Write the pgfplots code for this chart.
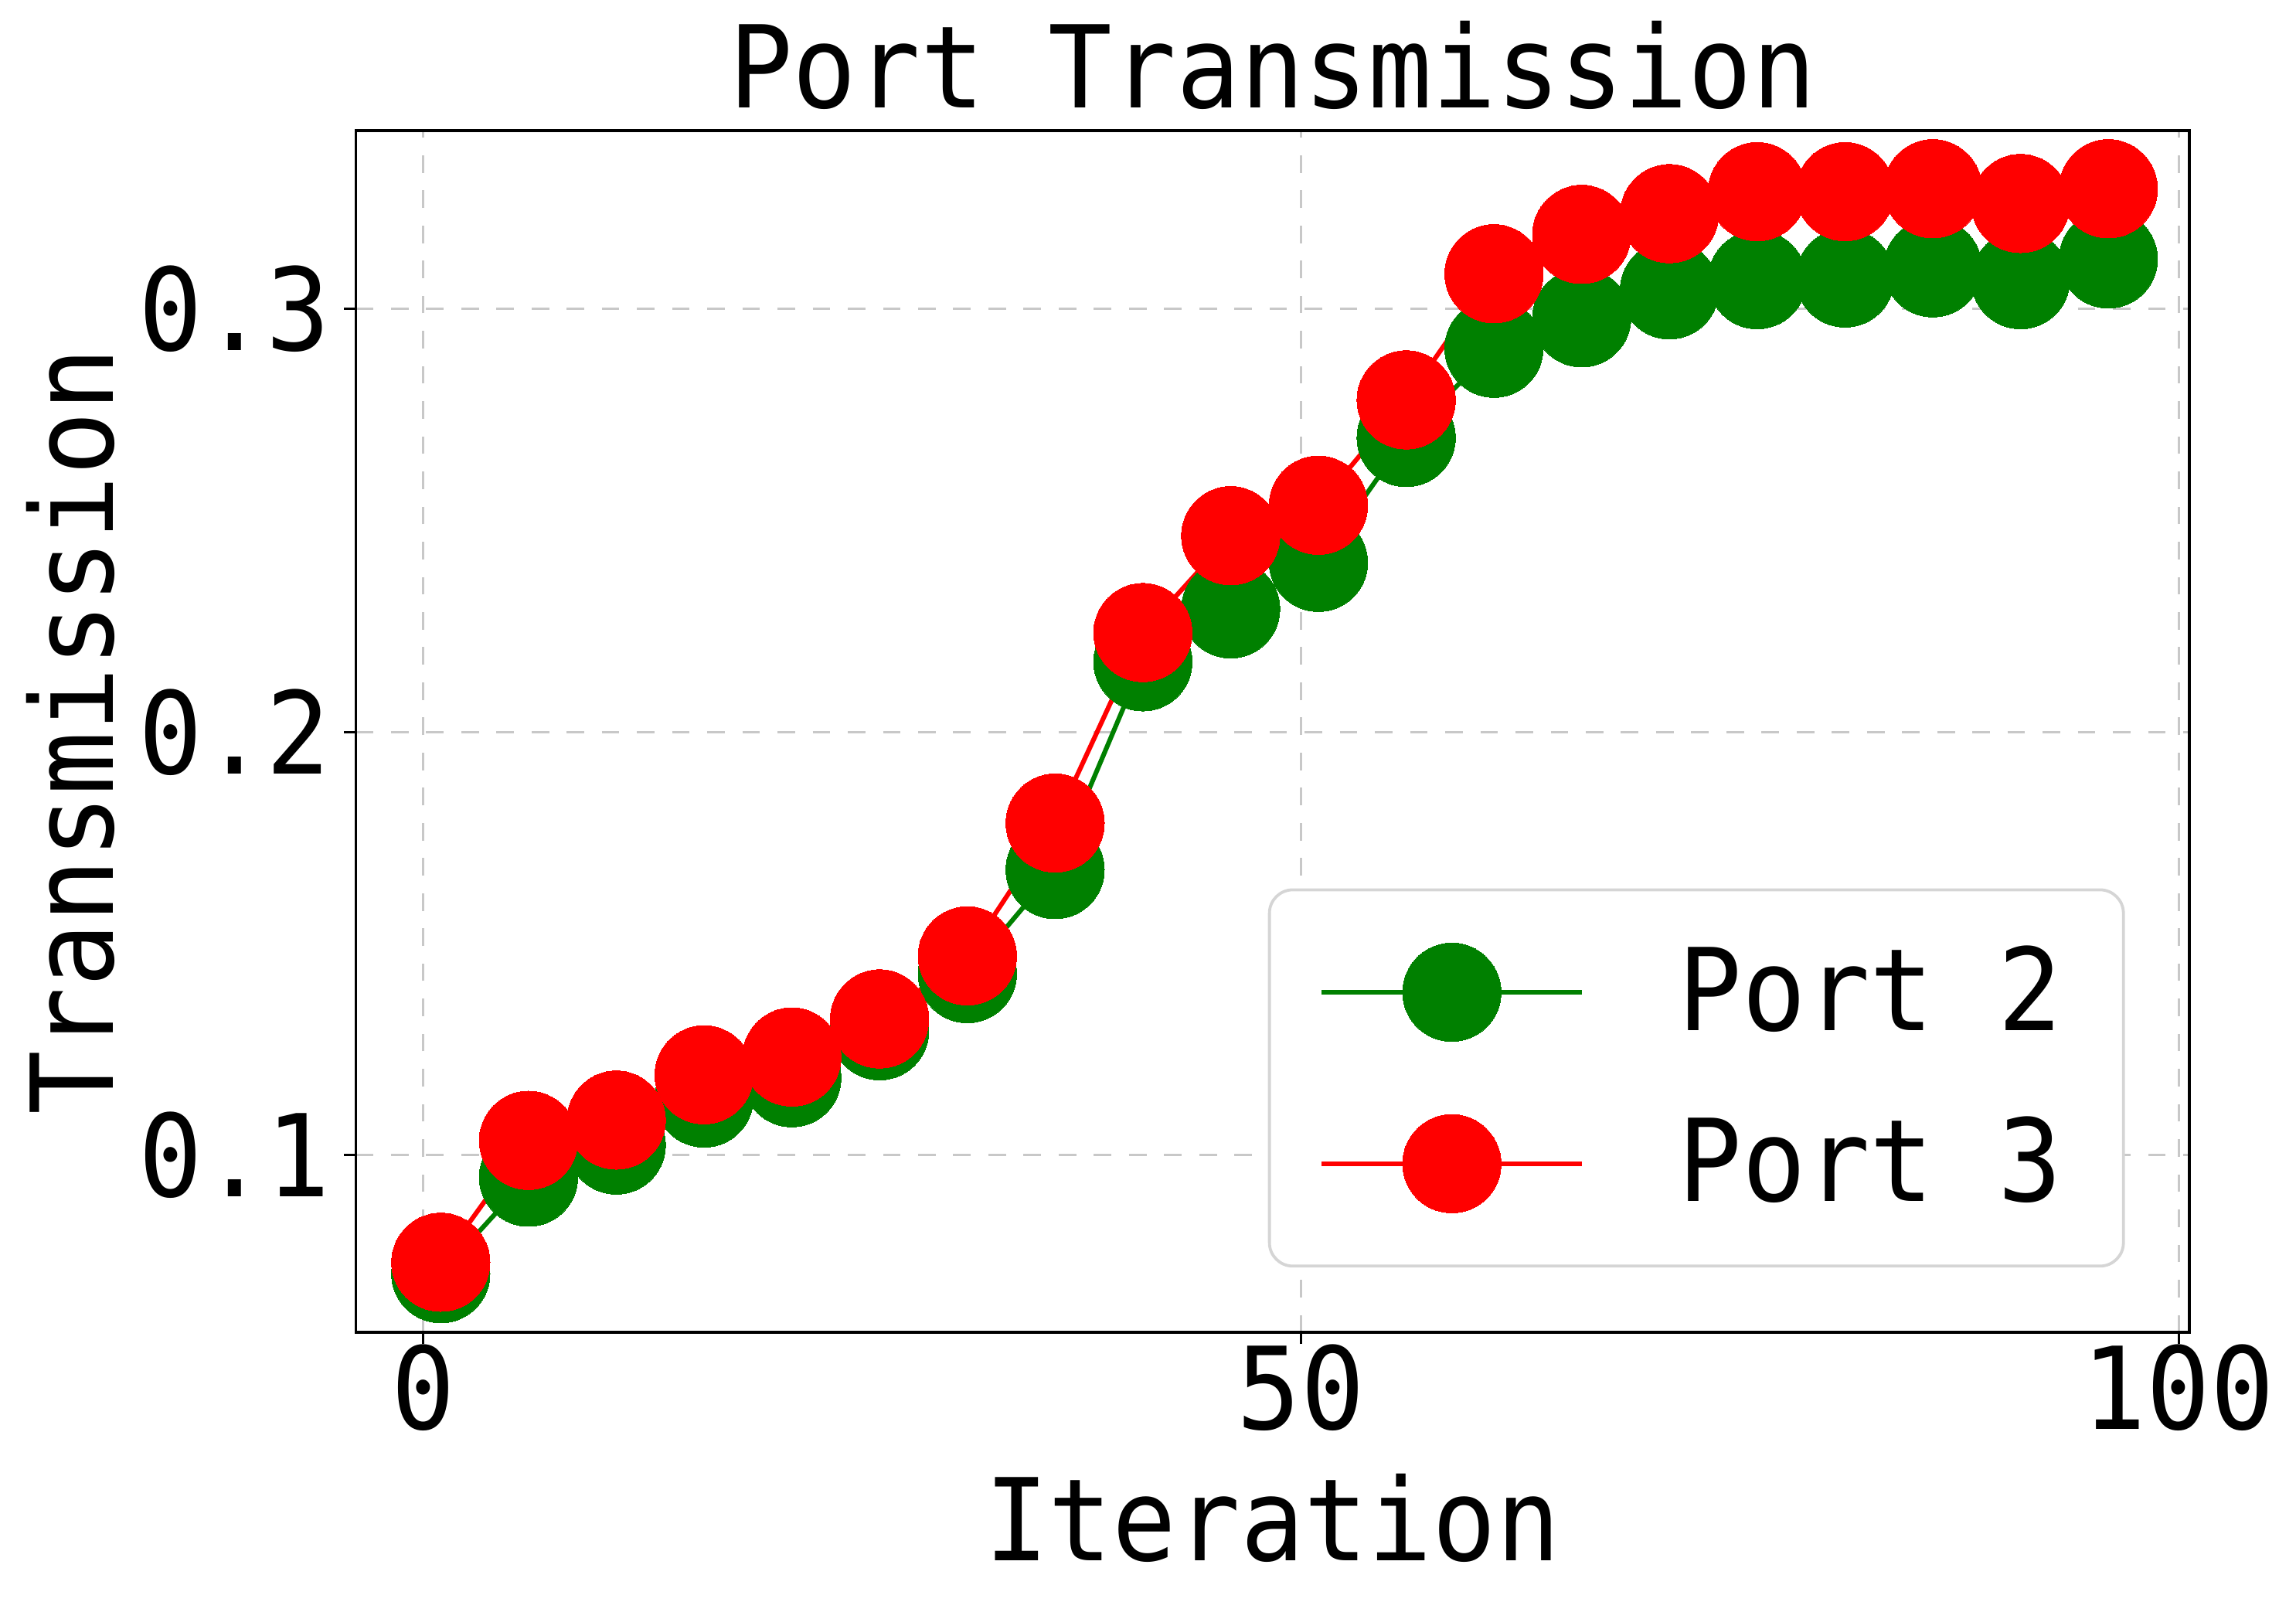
\documentclass[border=0pt]{standalone}
\usepackage{fontspec}
\setmainfont[FakeStretch=0.93]{DejaVu Sans Mono}
\usepackage{pgfplots}
\pgfplotsset{compat=1.18}
\definecolor{mgreen}{HTML}{008000}
\definecolor{mred}{HTML}{FF0000}
\definecolor{gridgray}{HTML}{C8C8C8}
\definecolor{leggray}{HTML}{D5D5D5}
\newcommand{\bigf}{\fontsize{19.5}{23}\selectfont}
\begin{document}
\begin{tikzpicture}
\useasboundingbox (-60.75pt,-46pt) rectangle (331.25pt,227.5pt);
\begin{axis}[
  at={(0pt,0pt)}, anchor=south west,
  scale only axis,
  width=313pt, height=205.25pt,
  xmin=-3.84, xmax=100.6,
  ymin=0.0581, ymax=0.3422,
  xtick={0,50,100},
  ytick={0.1,0.2,0.3},
  yticklabels={0.1,0.2,0.3},
  xticklabels={0,50,100},
  tick align=outside,
  tick pos=left,
  major tick length=2pt,
  tick style={black, line width=0.4pt},
  axis line style={black, line width=0.5pt},
  grid=major,
  major grid style={gridgray, dashed, line width=0.4pt},
  /pgf/number format/assume math mode=true,
  ticklabel style={font=\bigf},
  xticklabel style={yshift=3.5pt},
  yticklabel style={xshift=1.2pt},
  title={Port Transmission},
  title style={font=\bigf, yshift=-6pt},
  xlabel={Iteration},
  ylabel={Transmission},
  label style={font=\bigf},
  xlabel style={yshift=-0.5pt},
  ylabel style={yshift=-2.8pt},
  legend style={
    at={(0.965,0.054)}, anchor=south east,
    draw=leggray, line width=0.5pt, rounded corners=4pt,
    font=\bigf,
    row sep=9.3pt, inner xsep=8.5pt, inner ysep=7.5pt,
    cells={anchor=west},
    /tikz/every odd column/.append style={column sep=14pt},
  },
  legend image code/.code={
    \draw[#1, mark=none] (0cm,0cm) -- (44.5pt,0cm);
    \draw[#1, only marks] plot coordinates {(22.25pt,0cm)};
  },
]
\addplot[mgreen, line width=0.8pt, mark=*, mark size=8.4pt, mark options={draw=mgreen, fill=mgreen, line width=0pt}] coordinates {
(1,0.0720) (6,0.0948) (11,0.1024) (16,0.1135) (21,0.1183) (26,0.1294) (31,0.1429) (36,0.1675) (41,0.2166) (46,0.2291) (51,0.2401) (56,0.2696) (61,0.2907) (66,0.2979) (71,0.3045) (76,0.3069) (81,0.3073) (86,0.3097) (91,0.3069) (96,0.3118)
};
\addlegendentry{Port 2}
\addplot[mred, line width=0.8pt, mark=*, mark size=8.4pt, mark options={draw=mred, fill=mred, line width=0pt}] coordinates {
(1,0.0747) (6,0.1035) (11,0.1083) (16,0.1190) (21,0.1232) (26,0.1322) (31,0.1471) (36,0.1785) (41,0.2235) (46,0.2464) (51,0.2536) (56,0.2785) (61,0.3083) (66,0.3176) (71,0.3225) (76,0.3277) (81,0.3277) (86,0.3284) (91,0.3249) (96,0.3284)
};
\addlegendentry{Port 3}
\end{axis}
\end{tikzpicture}
\end{document}
